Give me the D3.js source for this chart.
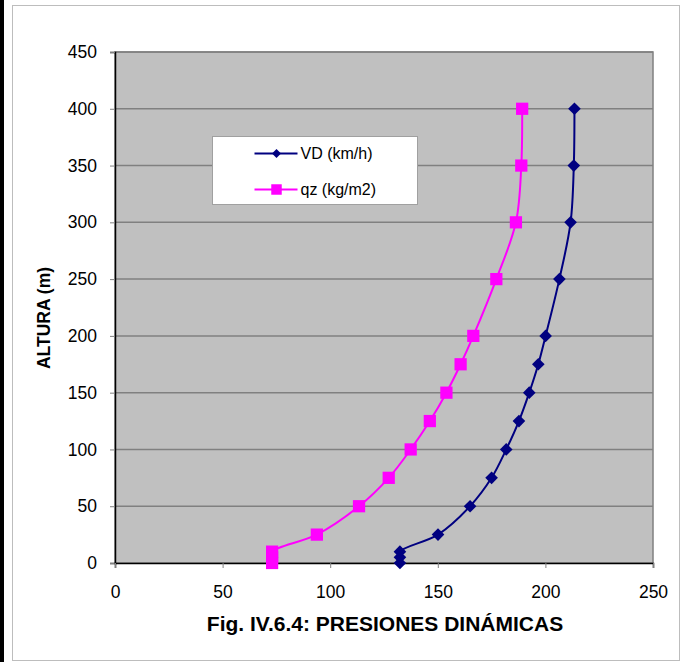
<!DOCTYPE html>
<html>
<head>
<meta charset="utf-8">
<script src="https://cdn.jsdelivr.net/npm/d3@7"></script>
<style>
	body { margin: 0; background: #fff; }
	text { font-family: Arial, "Liberation Sans", sans-serif; }
</style>
</head>
<body>
<svg id="chart" width="685" height="662"></svg>
<script>
// alturas (m)
const alturas = [0, 5, 10, 25, 50, 75, 100, 125, 150, 175, 200, 250, 300, 350, 400];
// velocidad de diseño (km/h)
const vd = [132.4, 132.4, 132.4, 150.1, 165.0, 175.0, 181.8, 187.7, 192.5, 196.7, 200.1, 206.5, 211.7, 213.2, 213.5];
// presion dinamica (kg/m2)
const qz = [73.0, 73.0, 73.0, 93.8, 113.4, 127.2, 137.4, 146.3, 154.0, 160.6, 166.5, 177.2, 186.3, 188.8, 189.2];

const xTicks = [0, 50, 100, 150, 200, 250];
const yTicks = [0, 50, 100, 150, 200, 250, 300, 350, 400, 450];
const seriesNames = ["VD (km/h)", "qz (kg/m2)"];
const chartTitle = "Fig. IV.6.4: PRESIONES DINÁMICAS";
const yTitle = "ALTURA (m)";

let svg = d3.select("#chart");

// barra negra a la izquierda y marco del grafico
svg.append("rect").attr("x", 0).attr("y", 0).attr("width", 4).attr("height", 662).attr("fill", "#000");
svg.append("rect")
	.attr("x", 12.5).attr("y", 5.5)
	.attr("width", 667).attr("height", 655)
	.attr("fill", "#fff")
	.attr("stroke", "#bdbdbd")
	.attr("stroke-width", 1);

let plot = { left: 115, top: 52, right: 653, bottom: 563 };

let x = d3.scaleLinear().domain([0, 250]).range([plot.left, plot.right]);
let y = d3.scaleLinear().domain([0, 450]).range([plot.bottom, plot.top]);

// area de trazado
svg.append("rect")
	.attr("x", plot.left).attr("y", plot.top)
	.attr("width", plot.right - plot.left).attr("height", plot.bottom - plot.top)
	.attr("fill", "#c0c0c0")
	.attr("stroke", "#808080")
	.attr("stroke-width", 1.5);

// lineas de division
svg.append("g")
	.selectAll("line")
	.data(yTicks.filter(d => d > 0))
	.enter()
	.append("line")
	.attr("x1", plot.left).attr("x2", plot.right)
	.attr("y1", d => y(d)).attr("y2", d => y(d))
	.attr("stroke", "#808080")
	.attr("stroke-width", 1.5);

// ejes
let yAxis = svg.append("g")
	.attr("transform", "translate(" + plot.left + ",0)")
	.call(d3.axisLeft(y).tickValues(yTicks).tickSize(5).tickPadding(13));
let xAxis = svg.append("g")
	.attr("transform", "translate(0," + plot.bottom + ")")
	.call(d3.axisBottom(x).tickValues(xTicks).tickSize(5).tickPadding(18));

[yAxis, xAxis].forEach(ax => {
	ax.select(".domain").attr("stroke", "#000").attr("stroke-width", 1.5);
	ax.selectAll(".tick line").attr("stroke", "#808080").attr("stroke-width", 1);
	ax.selectAll(".tick text")
		.attr("fill", "#000")
		.style("font-size", "17.5px")
		.style("font-family", "Arial, 'Liberation Sans', sans-serif");
});

// series
let line = d3.line()
	.x(d => x(d[0]))
	.y(d => y(d[1]))
	.curve(d3.curveCatmullRom.alpha(0.5));

// rombo de Excel: cuadrado girado 45 grados (ancho = alto)
let series = [
	{ name: seriesNames[0], values: vd, color: "#000080", rotate: 45, size: 80, legendSize: 40 },
	{ name: seriesNames[1], values: qz, color: "#ff00ff", rotate: 0, size: 150, legendSize: 110 }
];

series.forEach(s => {
	let pts = s.values.map((v, i) => [v, alturas[i]]);
	svg.append("path")
		.attr("d", line(pts))
		.attr("fill", "none")
		.attr("stroke", s.color)
		.attr("stroke-width", 2);
	svg.append("g")
		.selectAll("path")
		.data(pts)
		.enter()
		.append("path")
		.attr("d", d3.symbol().type(d3.symbolSquare).size(s.size))
		.attr("transform", d => "translate(" + x(d[0]) + "," + y(d[1]) + ") rotate(" + s.rotate + ")")
		.attr("fill", s.color);
});

// leyenda
let legend = svg.append("g").attr("transform", "translate(212.5,136.5)");
legend.append("rect")
	.attr("width", 205).attr("height", 68)
	.attr("fill", "#fff")
	.attr("stroke", "#a0a0a0")
	.attr("stroke-width", 1);

let items = legend.selectAll("g.item")
	.data(series)
	.enter()
	.append("g")
	.attr("class", "item")
	.attr("transform", (d, i) => "translate(0," + (17 + i * 36) + ")");

items.append("line")
	.attr("x1", 42).attr("x2", 85)
	.attr("stroke", d => d.color)
	.attr("stroke-width", 2);
items.append("path")
	.attr("d", d => d3.symbol().type(d3.symbolSquare).size(d.legendSize)())
	.attr("transform", d => "translate(64,0) rotate(" + d.rotate + ")")
	.attr("fill", d => d.color);
items.append("text")
	.attr("x", 88)
	.attr("dy", "0.35em")
	.style("font-size", "16px")
	.text(d => d.name);

// titulos
svg.append("text")
	.attr("transform", "translate(50,318) rotate(-90)")
	.attr("text-anchor", "middle")
	.style("font-size", "17.5px")
	.style("font-weight", "bold")
	.text(yTitle);

svg.append("text")
	.attr("x", 385)
	.attr("y", 631)
	.attr("text-anchor", "middle")
	.style("font-size", "21px")
	.style("font-weight", "bold")
	.text(chartTitle);
</script>
</body>
</html>
